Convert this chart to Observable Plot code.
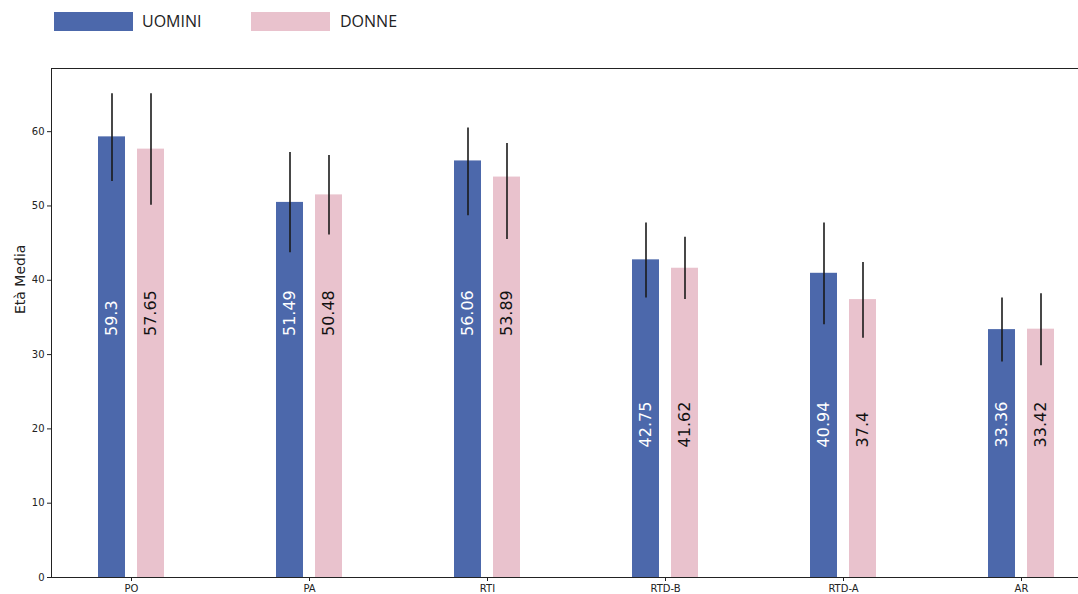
<!DOCTYPE html>
<html>
<head>
<meta charset="utf-8">
<script src="https://cdn.jsdelivr.net/npm/d3@7"></script>
<script src="https://cdn.jsdelivr.net/npm/@observablehq/plot@0.6"></script>
<style>
  html, body { margin: 0; padding: 0; background: #fff; }
  #legend { position: relative; width: 1078px; height: 44px; font-family: "Open Sans", sans-serif; font-size: 16px; color: #222; }
  .sw { position: absolute; top: 12px; width: 79px; height: 19px; }
  .lt { position: absolute; top: 10px; line-height: 22px; }
  #chart svg { display: block; }
</style>
</head>
<body>
<div id="legend"></div>
<div id="chart"></div>
<script>
const categories = ["PO", "PA", "RTI", "RTD-B", "RTD-A", "AR"];
const series = ["UOMINI", "DONNE"];
const colors = ["#4c68ab", "#e9c2cd"];
const menMean = [59.3, 50.48, 56.06, 42.75, 40.94, 33.36];
const womenMean = [57.65, 51.49, 53.89, 41.62, 37.4, 33.42];
const menLabels = ["59.3", "51.49", "56.06", "42.75", "40.94", "33.36"];
const womenLabels = ["57.65", "50.48", "53.89", "41.62", "37.4", "33.42"];
const menLow = [53.3, 43.7, 48.7, 37.6, 34.0, 29.0];
const menHigh = [65.1, 57.2, 60.5, 47.7, 47.7, 37.6];
const womenLow = [50.1, 46.1, 45.5, 37.4, 32.2, 28.5];
const womenHigh = [65.1, 56.8, 58.4, 45.8, 42.4, 38.2];
const yTicks = [0, 10, 20, 30, 40, 50, 60];
const yTitle = "Età Media";

const men = categories.map((c, i) => ({cat: c, i, v: menMean[i], lo: menLow[i], hi: menHigh[i], label: menLabels[i]}));
const women = categories.map((c, i) => ({cat: c, i, v: womenMean[i], lo: womenLow[i], hi: womenHigh[i], label: womenLabels[i]}));
const labelY = d => d.i < 3 ? 32.5 : 17.5;

// legend
const legend = document.getElementById("legend");
[[54, 142], [251, 340]].forEach(([sx, tx], k) => {
  const s = document.createElement("div");
  s.className = "sw"; s.style.left = sx + "px"; s.style.background = colors[k];
  legend.appendChild(s);
  const t = document.createElement("div");
  t.className = "lt"; t.style.left = tx + "px"; t.textContent = series[k];
  legend.appendChild(t);
});

const plot = Plot.plot({
  width: 1078,
  height: 550,
  marginLeft: 51,
  marginRight: -2,
  marginTop: 24,
  marginBottom: 17,
  style: {fontFamily: "DejaVu Sans, sans-serif", fontSize: "10px", color: "#222", background: "#fff"},
  x: {domain: categories, range: [42, 1110], padding: 0, label: null},
  y: {domain: [0, 68.5], label: null},
  marks: [
    Plot.barY(men, {x: "cat", y: "v", fill: colors[0], insetLeft: 56, insetRight: 95}),
    Plot.barY(women, {x: "cat", y: "v", fill: colors[1], insetLeft: 95, insetRight: 56}),
    Plot.ruleX(men, {x: "cat", y1: "lo", y2: "hi", dx: -19.5, stroke: "#1a1a1a", strokeWidth: 1.6}),
    Plot.ruleX(women, {x: "cat", y1: "lo", y2: "hi", dx: 19.5, stroke: "#1a1a1a", strokeWidth: 1.6}),
    Plot.text(men, {x: "cat", y: labelY, text: "label", dx: -19.5, rotate: -90, textAnchor: "start", fill: "#fff", fontSize: 16, fontFamily: "DejaVu Sans, sans-serif"}),
    Plot.text(women, {x: "cat", y: labelY, text: "label", dx: 19.5, rotate: -90, textAnchor: "start", fill: "#111", fontSize: 16, fontFamily: "DejaVu Sans, sans-serif"}),
    Plot.axisY({ticks: yTicks, tickSize: 4, tickPadding: 3, label: null, fontSize: 10}),
    Plot.text([yTitle], {frameAnchor: "left", dx: -31, dy: -9, rotate: -90, fontSize: 14, fill: "#222", fontFamily: "DejaVu Sans, sans-serif"}),
    Plot.axisX({tickSize: 4, tickPadding: 3, label: null, fontSize: 10}),
    Plot.frame({stroke: "#222", strokeWidth: 1})
  ]
});
document.getElementById("chart").appendChild(plot);
</script>
</body>
</html>
